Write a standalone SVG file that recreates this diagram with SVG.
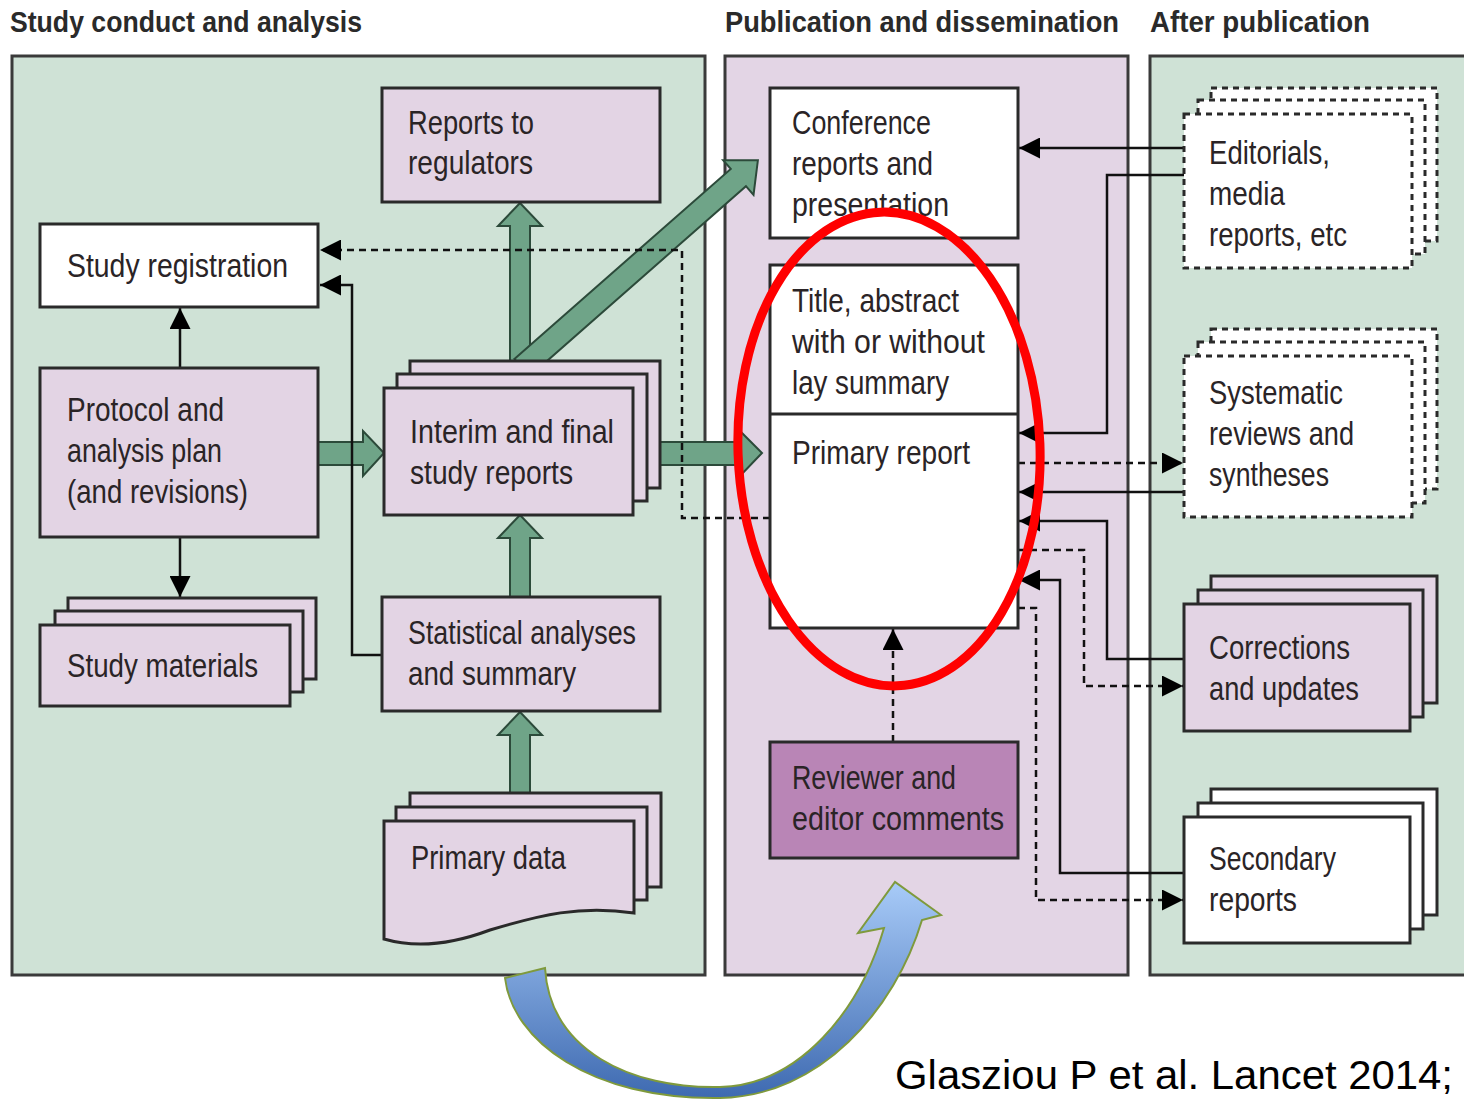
<svg xmlns="http://www.w3.org/2000/svg" width="1464" height="1101" viewBox="0 0 1464 1101">
<style>
.pg{fill:#cfe2d6;stroke:#3a3a3a;stroke-width:3}
.pp{fill:#e3d5e5;stroke:#3a3a3a;stroke-width:3}
.bp{fill:#e3d4e4;stroke:#2a2a2a;stroke-width:3}
.bw{fill:#ffffff;stroke:#2a2a2a;stroke-width:3}
.bd{fill:#ffffff;stroke:#2a2a2a;stroke-width:3;stroke-dasharray:6 5}
.br{fill:#b985b6;stroke:#2a2a2a;stroke-width:3}
.t{font-family:"Liberation Sans",Arial,sans-serif;font-size:33px;fill:#2a2426}
.h{font-family:"Liberation Sans",Arial,sans-serif;font-size:29px;font-weight:bold;fill:#2a2a2a}
.ln{fill:none;stroke:#111;stroke-width:2.5}
.dl{fill:none;stroke:#111;stroke-width:2.5;stroke-dasharray:7 5}
.ga{fill:#6fa488;stroke:#2c4a3a;stroke-width:2}
</style>
<defs>
<marker id="ah" viewBox="0 0 20 20" refX="20" refY="10" markerWidth="21" markerHeight="21" markerUnits="userSpaceOnUse" orient="auto">
<path d="M0,0 L20,10 L0,20 z" fill="#000"/>
</marker>
<linearGradient id="blue" gradientUnits="userSpaceOnUse" x1="0" y1="882" x2="0" y2="1100">
<stop offset="0" stop-color="#a8cbf8"/>
<stop offset="1" stop-color="#3d69b0"/>
</linearGradient>
</defs>
<rect width="1464" height="1101" fill="#ffffff"/>

<g id="headers">
<text class="h" x="10" y="32" textLength="352" lengthAdjust="spacingAndGlyphs">Study conduct and analysis</text>
<text class="h" x="725" y="32" textLength="394" lengthAdjust="spacingAndGlyphs">Publication and dissemination</text>
<text class="h" x="1150" y="32" textLength="220" lengthAdjust="spacingAndGlyphs">After publication</text>
</g>

<g id="panels">
<rect class="pg" x="12" y="56" width="693" height="919"/>
<rect class="pp" x="725" y="56" width="403" height="919"/>
<rect class="pg" x="1150" y="56" width="330" height="919"/>
</g>

<g id="green-arrows">
<polygon class="ga" points="510,797 510,735 498,735 520,712 542,735 530,735 530,797"/>
<polygon class="ga" points="510,599 510,538 498,538 520,515 542,538 530,538 530,599"/>
<polygon class="ga" points="510,365 510,226 498,226 520,203 542,226 530,226 530,365"/>
<polygon class="ga" points="318,442 363,442 363,431 384,453 363,476 363,465 318,465"/>
<polygon class="ga" points="660,442 739,442 739,430 762,453 739,477 739,465 660,465"/>
<polygon class="ga" transform="translate(529.5,361) rotate(-41.3)" points="-10,-11.5 278,-11.5 278,-23 304,0 278,23 278,11.5 -10,11.5"/>
</g>

<g id="connectors">
<line class="ln" x1="180" y1="368" x2="180" y2="308" marker-end="url(#ah)"/>
<line class="ln" x1="180" y1="537" x2="180" y2="597" marker-end="url(#ah)"/>
<polyline class="ln" points="382,655 352,655 352,285 320,285" marker-end="url(#ah)"/>
<polyline class="dl" points="770,518 682,518 682,250 320,250" marker-end="url(#ah)"/>
<line class="dl" x1="893" y1="742" x2="893" y2="629" marker-end="url(#ah)"/>
<line class="ln" x1="1184" y1="148" x2="1019" y2="148" marker-end="url(#ah)"/>
<polyline class="ln" points="1184,175 1107,175 1107,433 1019,433" marker-end="url(#ah)"/>
<line class="dl" x1="1018" y1="463" x2="1183" y2="463" marker-end="url(#ah)"/>
<line class="ln" x1="1184" y1="492" x2="1019" y2="492" marker-end="url(#ah)"/>
<polyline class="ln" points="1184,659 1107,659 1107,521 1019,521" marker-end="url(#ah)"/>
<polyline class="dl" points="1018,550 1084,550 1084,686 1183,686" marker-end="url(#ah)"/>
<polyline class="ln" points="1184,873 1060,873 1060,580 1019,580" marker-end="url(#ah)"/>
<polyline class="dl" points="1018,608 1036,608 1036,900 1183,900" marker-end="url(#ah)"/>
</g>

<g id="reports-to-regulators">
<rect class="bp" x="382" y="88" width="278" height="114"/>
<text class="t" x="408" y="134" textLength="126" lengthAdjust="spacingAndGlyphs">Reports to</text>
<text class="t" x="408" y="174" textLength="125" lengthAdjust="spacingAndGlyphs">regulators</text>
</g>

<g id="study-registration">
<rect class="bw" x="40" y="224" width="278" height="83"/>
<text class="t" x="67" y="277" textLength="221" lengthAdjust="spacingAndGlyphs">Study registration</text>
</g>

<g id="protocol">
<rect class="bp" x="40" y="368" width="278" height="169"/>
<text class="t" x="67" y="421" textLength="157" lengthAdjust="spacingAndGlyphs">Protocol and</text>
<text class="t" x="67" y="462" textLength="155" lengthAdjust="spacingAndGlyphs">analysis plan</text>
<text class="t" x="67" y="503" textLength="181" lengthAdjust="spacingAndGlyphs">(and revisions)</text>
</g>

<g id="study-materials">
<rect class="bp" x="68" y="598" width="248" height="81"/>
<rect class="bp" x="55" y="611" width="248" height="81"/>
<rect class="bp" x="40" y="625" width="250" height="81"/>
<text class="t" x="67" y="677" textLength="191" lengthAdjust="spacingAndGlyphs">Study materials</text>
</g>

<g id="interim-reports">
<rect class="bp" x="410" y="361" width="250" height="127"/>
<rect class="bp" x="397" y="374" width="250" height="127"/>
<rect class="bp" x="384" y="388" width="249" height="127"/>
<text class="t" x="410" y="443" textLength="204" lengthAdjust="spacingAndGlyphs">Interim and final</text>
<text class="t" x="410" y="484" textLength="163" lengthAdjust="spacingAndGlyphs">study reports</text>
</g>

<g id="statistical-analyses">
<rect class="bp" x="382" y="597" width="278" height="114"/>
<text class="t" x="408" y="644" textLength="228" lengthAdjust="spacingAndGlyphs">Statistical analyses</text>
<text class="t" x="408" y="685" textLength="168" lengthAdjust="spacingAndGlyphs">and summary</text>
</g>

<g id="primary-data">
<rect class="bp" x="410" y="793" width="251" height="94"/>
<rect class="bp" x="396" y="807" width="251" height="93"/>
<path class="bp" d="M384,821 L634,821 L634,913 C580,905 540,915 490,930 C450,945 415,948 384,939 Z"/>
<text class="t" x="411" y="869" textLength="155" lengthAdjust="spacingAndGlyphs">Primary data</text>
</g>

<g id="conference-reports">
<rect class="bw" x="770" y="88" width="248" height="150"/>
<text class="t" x="792" y="134" textLength="139" lengthAdjust="spacingAndGlyphs">Conference</text>
<text class="t" x="792" y="175" textLength="141" lengthAdjust="spacingAndGlyphs">reports and</text>
<text class="t" x="792" y="216" textLength="157" lengthAdjust="spacingAndGlyphs">presentation</text>
</g>

<g id="primary-report">
<rect class="bw" x="770" y="265" width="248" height="363"/>
<line x1="770" y1="414" x2="1018" y2="414" stroke="#2a2a2a" stroke-width="3"/>
<text class="t" x="792" y="312" textLength="167" lengthAdjust="spacingAndGlyphs">Title, abstract</text>
<text class="t" x="792" y="353" textLength="193" lengthAdjust="spacingAndGlyphs">with or without</text>
<text class="t" x="792" y="394" textLength="157" lengthAdjust="spacingAndGlyphs">lay summary</text>
<text class="t" x="792" y="464" textLength="178" lengthAdjust="spacingAndGlyphs">Primary report</text>
</g>

<g id="reviewer-comments">
<rect class="br" x="770" y="742" width="248" height="116"/>
<text class="t" x="792" y="789" textLength="164" lengthAdjust="spacingAndGlyphs">Reviewer and</text>
<text class="t" x="792" y="830" textLength="212" lengthAdjust="spacingAndGlyphs">editor comments</text>
</g>

<g id="editorials">
<rect class="bd" x="1211" y="88" width="226" height="153"/>
<rect class="bd" x="1198" y="100" width="227" height="154"/>
<rect class="bd" x="1184" y="114" width="228" height="154"/>
<text class="t" x="1209" y="164" textLength="121" lengthAdjust="spacingAndGlyphs">Editorials,</text>
<text class="t" x="1209" y="205" textLength="76" lengthAdjust="spacingAndGlyphs">media</text>
<text class="t" x="1209" y="246" textLength="138" lengthAdjust="spacingAndGlyphs">reports, etc</text>
</g>

<g id="systematic-reviews">
<rect class="bd" x="1211" y="329" width="226" height="160"/>
<rect class="bd" x="1198" y="342" width="227" height="161"/>
<rect class="bd" x="1184" y="356" width="228" height="161"/>
<text class="t" x="1209" y="404" textLength="134" lengthAdjust="spacingAndGlyphs">Systematic</text>
<text class="t" x="1209" y="445" textLength="145" lengthAdjust="spacingAndGlyphs">reviews and</text>
<text class="t" x="1209" y="486" textLength="120" lengthAdjust="spacingAndGlyphs">syntheses</text>
</g>

<g id="corrections">
<rect class="bp" x="1211" y="576" width="226" height="127"/>
<rect class="bp" x="1198" y="590" width="225" height="127"/>
<rect class="bp" x="1184" y="604" width="226" height="127"/>
<text class="t" x="1209" y="659" textLength="141" lengthAdjust="spacingAndGlyphs">Corrections</text>
<text class="t" x="1209" y="700" textLength="150" lengthAdjust="spacingAndGlyphs">and updates</text>
</g>

<g id="secondary-reports">
<rect class="bw" x="1211" y="789" width="226" height="126"/>
<rect class="bw" x="1198" y="803" width="225" height="126"/>
<rect class="bw" x="1184" y="817" width="226" height="126"/>
<text class="t" x="1209" y="870" textLength="127" lengthAdjust="spacingAndGlyphs">Secondary</text>
<text class="t" x="1209" y="911" textLength="88" lengthAdjust="spacingAndGlyphs">reports</text>
</g>

<g id="highlight">
<ellipse cx="889" cy="449" rx="151" ry="237" fill="none" stroke="#ff0000" stroke-width="9" transform="rotate(-2 889 449)"/>
</g>

<g id="curved-arrow">
<path d="M505,978 C512,1040 590,1100 720,1098 C820,1096 895,1010 922,920 L941,915 L895,882 L858,933 L884,928 C860,1010 800,1085 720,1087 C630,1089 550,1050 545,968 Z" fill="url(#blue)" stroke="#7f9a3c" stroke-width="2"/>
</g>

<g id="citation">
<text x="895" y="1089" font-family="Liberation Sans, Arial, sans-serif" font-size="40" fill="#000" textLength="558" lengthAdjust="spacingAndGlyphs">Glasziou P et al. Lancet 2014;</text>
</g>
</svg>
